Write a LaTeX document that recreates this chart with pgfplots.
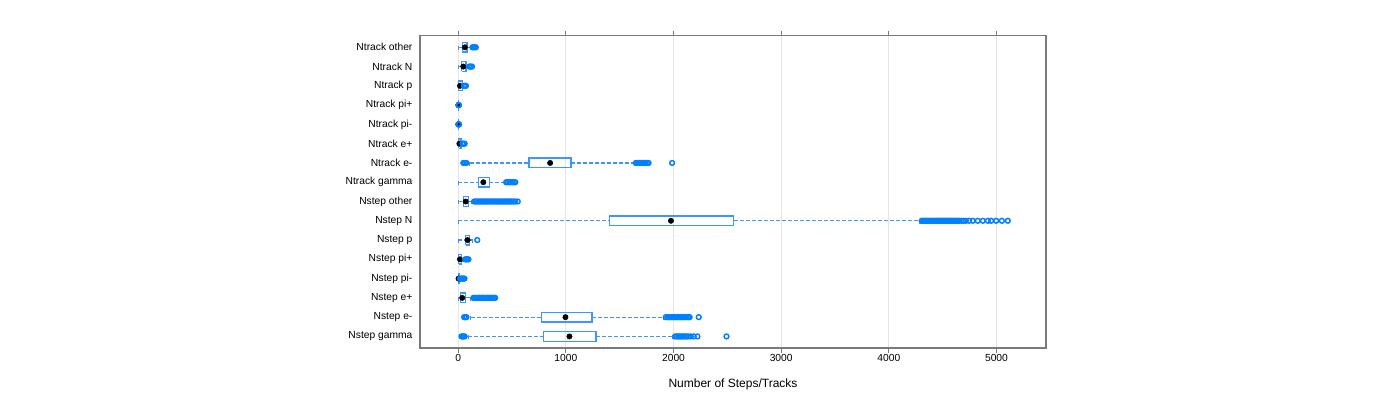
\documentclass[border=0pt]{standalone}
\usepackage{fontspec}
\setmainfont{Liberation Sans}
\usepackage{pgfplots}
\pgfplotsset{compat=1.18}
\definecolor{c0}{RGB}{0,128,255}
\definecolor{boxc}{RGB}{60,150,255}
\definecolor{framec}{RGB}{122,122,122}
\begin{document}
\begin{tikzpicture}
\useasboundingbox (0,0) rectangle (1050bp,300bp);
\begin{axis}[
  at={(315bp,39bp)}, anchor=south west,
  scale only axis, width=469.5bp, height=234.2bp,
  xmin=-355, xmax=5460, ymin=0.4, ymax=16.6,
  xtick={0,1000,2000,3000,4000,5000},
  ytick={1,...,16},
  yticklabels={Nstep gamma,Nstep e-,Nstep e+,Nstep pi-,Nstep pi+,Nstep p,Nstep N,Nstep other,Ntrack gamma,Ntrack e-,Ntrack e+,Ntrack pi-,Ntrack pi+,Ntrack p,Ntrack N,Ntrack other},
  scaled x ticks=false,
  /pgf/number format/assume math mode=true,
  /pgf/number format/set thousands separator={},
  tick label style={font=\fontsize{7.7bp}{9bp}\selectfont, text=black},
  xtick align=outside, ytick align=inside,
  major tick length=3.75bp,
  xtick pos=both, xticklabel pos=bottom,
  ytick style={draw=none},
  xtick style={draw=framec, line width=0.75bp},
  x tick label style={inner sep=1bp},
  y tick label style={inner sep=0pt, xshift=-5.5bp},
  axis line style={draw=framec, line width=1bp},
  xmajorgrids, major grid style={draw=gray!20, line width=0.75bp},
  xlabel={Number of Steps/Tracks},
  xlabel style={font=\fontsize{9bp}{11bp}\selectfont, at={(axis description cs:0.5,0)}, anchor=center, yshift=-27bp},
  unbounded coords=jump,
]
% whiskers (lower whisker..lower quartile, upper quartile..upper whisker) and their end caps
\addplot[color=boxc, line width=0.9bp, dash pattern=on 3bp off 1.5bp] table {
x y
93 1
791 1
nan nan
1279 1
1992 1
nan nan
93 0.85
93 1.15
nan nan
1992 0.85
1992 1.15
nan nan
115 2
773 2
nan nan
1242 2
1909 2
nan nan
115 1.85
115 2.15
nan nan
1909 1.85
1909 2.15
nan nan
0 3
22 3
nan nan
69 3
115 3
nan nan
0 2.85
0 3.15
nan nan
115 2.85
115 3.15
nan nan
8 4
15 4
nan nan
0 3.85
0 4.15
nan nan
15 3.85
15 4.15
nan nan
0 5
3 5
nan nan
30 5
45 5
nan nan
0 4.85
0 5.15
nan nan
45 4.85
45 5.15
nan nan
0 6
69 6
nan nan
102 6
135 6
nan nan
0 5.85
0 6.15
nan nan
135 5.85
135 6.15
nan nan
0 7
1406 7
nan nan
2560 7
4290 7
nan nan
0 6.85
0 7.15
nan nan
4290 6.85
4290 7.15
nan nan
0 8
47 8
nan nan
93 8
125 8
nan nan
0 7.85
0 8.15
nan nan
125 7.85
125 8.15
nan nan
0 9
186 9
nan nan
289 9
435 9
nan nan
0 8.85
0 9.15
nan nan
435 8.85
435 9.15
nan nan
105 10
658 10
nan nan
1048 10
1640 10
nan nan
105 9.85
105 10.15
nan nan
1640 9.85
1640 10.15
nan nan
0 11
3 11
nan nan
25 11
35 11
nan nan
0 10.85
0 11.15
nan nan
35 10.85
35 11.15
nan nan
0 11.85
0 12.15
nan nan
2 13
3 13
nan nan
0 12.85
0 13.15
nan nan
3 12.85
3 13.15
nan nan
0 14
3 14
nan nan
40 14
50 14
nan nan
0 13.85
0 14.15
nan nan
50 13.85
50 14.15
nan nan
0 15
31 15
nan nan
72 15
95 15
nan nan
0 14.85
0 15.15
nan nan
95 14.85
95 15.15
nan nan
0 16
37 16
nan nan
81 16
120 16
nan nan
0 15.85
0 16.15
nan nan
120 15.85
120 16.15
};
% boxes (lower quartile .. upper quartile)
\addplot[color=boxc, line width=1bp, solid, mark=none] table {
x y
791 0.75
1279 0.75
1279 1.25
791 1.25
791 0.75
nan nan
773 1.75
1242 1.75
1242 2.25
773 2.25
773 1.75
nan nan
22 2.75
69 2.75
69 3.25
22 3.25
22 2.75
nan nan
0 3.75
8 3.75
8 4.25
0 4.25
0 3.75
nan nan
3 4.75
30 4.75
30 5.25
3 5.25
3 4.75
nan nan
69 5.75
102 5.75
102 6.25
69 6.25
69 5.75
nan nan
1406 6.75
2560 6.75
2560 7.25
1406 7.25
1406 6.75
nan nan
47 7.75
93 7.75
93 8.25
47 8.25
47 7.75
nan nan
186 8.75
289 8.75
289 9.25
186 9.25
186 8.75
nan nan
658 9.75
1048 9.75
1048 10.25
658 10.25
658 9.75
nan nan
3 10.75
25 10.75
25 11.25
3 11.25
3 10.75
nan nan
0 11.75
1 11.75
1 12.25
0 12.25
0 11.75
nan nan
0 12.75
2 12.75
2 13.25
0 13.25
0 12.75
nan nan
3 13.75
40 13.75
40 14.25
3 14.25
3 13.75
nan nan
31 14.75
72 14.75
72 15.25
31 15.25
31 14.75
nan nan
37 15.75
81 15.75
81 16.25
37 16.25
37 15.75
};
% medians
\addplot[only marks, mark=*, mark size=2bp, black] coordinates {
(1033,1) (996,2) (37,3) (3,4) (16,5) (87,6) (1976,7) (69,8)
(233,9) (854,10) (11,11) (1,12) (1,13) (16,14) (47,15) (62,16)};
% outliers
\addplot[only marks, mark=o, mark size=1.8bp, color=c0, line width=1.1bp] table {
x y
30 1
40 1
50 1
60 1
2015 1
2030 1
2045 1
2060 1
2075 1
2090 1
2105 1
2120 1
2135 1
2160 1
2188 1
2222 1
2492 1
55 2
65 2
76 2
1928 2
1943 2
1958 2
1973 2
1988 2
2003 2
2018 2
2033 2
2048 2
2063 2
2078 2
2093 2
2108 2
2123 2
2138 2
2150 2
2234 2
141 3
153 3
165 3
177 3
189 3
201 3
213 3
225 3
237 3
249 3
261 3
273 3
285 3
297 3
309 3
321 3
333 3
343 3
18 4
28 4
38 4
48 4
58 4
65 5
75 5
85 5
95 5
177 6
4306 7
4320 7
4334 7
4348 7
4362 7
4376 7
4390 7
4404 7
4418 7
4432 7
4446 7
4460 7
4474 7
4488 7
4502 7
4516 7
4530 7
4544 7
4558 7
4572 7
4586 7
4600 7
4614 7
4628 7
4642 7
4656 7
4675 7
4695 7
4715 7
4745 7
4780 7
4826 7
4873 7
4920 7
4950 7
4997 7
5050 7
5105 7
148 8
162 8
176 8
190 8
204 8
218 8
232 8
246 8
260 8
274 8
288 8
302 8
316 8
330 8
344 8
358 8
372 8
386 8
400 8
414 8
428 8
442 8
456 8
470 8
484 8
498 8
515 8
530 8
553 8
445 9
460 9
475 9
490 9
505 9
520 9
530 9
48 10
62 10
76 10
1650 10
1665 10
1680 10
1695 10
1710 10
1725 10
1740 10
1755 10
1768 10
1987 10
40 11
50 11
60 11
2 12
4 12
6 12
8 12
4 13
5 13
6 13
53 14
62 14
72 14
105 15
115 15
128 15
132 16
142 16
152 16
163 16
};
\end{axis}
\end{tikzpicture}
\end{document}
